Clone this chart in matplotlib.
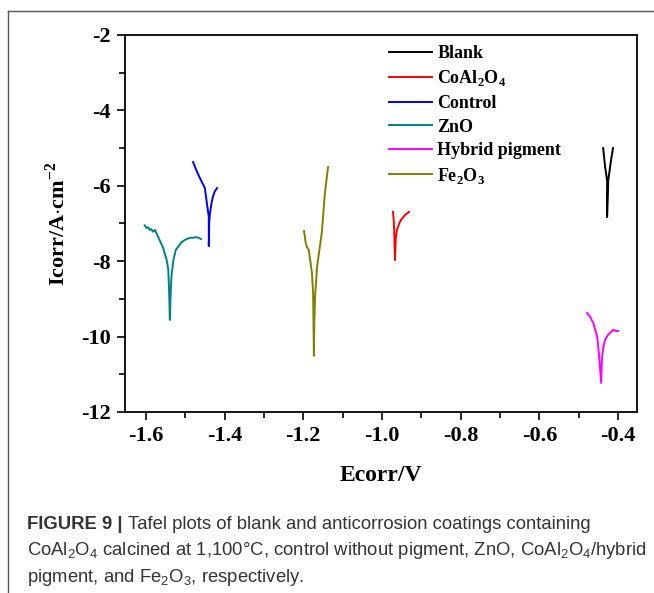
import numpy as np
import matplotlib
matplotlib.use("Agg")
import matplotlib.pyplot as plt
from matplotlib.lines import Line2D

plt.rcParams["font.family"] = "Liberation Serif"
plt.rcParams["font.weight"] = "bold"
plt.rcParams["axes.unicode_minus"] = False
plt.rcParams["mathtext.fontset"] = "custom"
plt.rcParams["mathtext.rm"] = "Liberation Sans:normal"
plt.rcParams["mathtext.bf"] = "Liberation Serif:bold"
plt.rcParams["mathtext.default"] = "rm"

# Tafel curves (E in V, log Icorr)
blank_x = [-0.438, -0.433, -0.428, -0.428, -0.425, -0.418, -0.413]
blank_y = [-5.00, -5.50, -5.85, -6.83, -5.85, -5.32, -5.00]

coal_x = [-0.972, -0.970, -0.969, -0.967, -0.965, -0.962, -0.957, -0.952, -0.942, -0.931]
coal_y = [-6.69, -6.95, -7.17, -7.97, -7.40, -7.17, -7.02, -6.91, -6.78, -6.69]

control_x = [-1.480, -1.472, -1.463, -1.450, -1.445, -1.440, -1.440, -1.439, -1.437, -1.433, -1.430, -1.425, -1.419]
control_y = [-5.37, -5.58, -5.79, -6.06, -6.46, -6.83, -7.60, -6.95, -6.72, -6.45, -6.30, -6.15, -6.06]

zno_x = [-1.603, -1.598, -1.594, -1.590, -1.586, -1.582, -1.577, -1.572, -1.566, -1.557, -1.547,
         -1.543, -1.541, -1.539, -1.538, -1.537, -1.535, -1.530, -1.524, -1.518, -1.510, -1.503,
         -1.496, -1.488, -1.480, -1.472, -1.466, -1.460]
zno_y = [-7.05, -7.12, -7.10, -7.17, -7.15, -7.22, -7.17, -7.28, -7.42, -7.62, -7.97,
         -8.23, -8.76, -9.56, -9.20, -8.85, -8.41, -7.97, -7.70, -7.62, -7.50, -7.45,
         -7.41, -7.38, -7.38, -7.36, -7.38, -7.41]

hybrid_x = [-0.479, -0.471, -0.463, -0.453, -0.448, -0.443, -0.441, -0.437, -0.433, -0.427, -0.420, -0.413, -0.406, -0.400]
hybrid_y = [-9.37, -9.48, -9.64, -10.01, -10.54, -11.23, -10.54, -10.25, -10.09, -9.97, -9.90, -9.82, -9.85, -9.85]

fe_x = [-1.198, -1.194, -1.191, -1.186, -1.178, -1.175, -1.173, -1.172, -1.170, -1.165, -1.159, -1.153, -1.145, -1.137]
fe_y = [-7.20, -7.50, -7.62, -7.70, -8.31, -8.84, -10.51, -9.60, -8.95, -8.15, -7.70, -7.25, -6.19, -5.50]

labels = ["Blank", r"CoAl$_\mathbf{2}$O$_\mathbf{4}$", "Control", "ZnO", "Hybrid pigment",
          r"Fe$_\mathbf{2}$O$_\mathbf{3}$"]
colors = ["#000000", "#ff0000", "#0000ff", "#008080", "#ff00ff", "#808000"]
series = [(blank_x, blank_y), (coal_x, coal_y), (control_x, control_y),
          (zno_x, zno_y), (hybrid_x, hybrid_y), (fe_x, fe_y)]

fig = plt.figure(figsize=(6.54, 5.93), dpi=100)
ax = fig.add_axes([125 / 654, 1 - 412 / 593, 512 / 654, 377 / 593])

for (x, y), lab, c in zip(series, labels, colors):
    ax.plot(x, y, color=c, lw=1.4, label=lab)

ax.set_xlim(-1.653, -0.352)
ax.set_ylim(-12, -2)
ax.set_xticks(np.arange(-1.6, -0.35, 0.2))
ax.set_xticklabels(["-1.6", "-1.4", "-1.2", "-1.0", "-0.8", "-0.6", "-0.4"])
ax.set_xticks(np.arange(-1.5, -0.35, 0.2), minor=True)
ax.set_yticks(np.arange(-12, -1, 2))
ax.set_yticks(np.arange(-11, -2, 2), minor=True)
ax.tick_params(which="major", length=6, width=1.2, labelsize=16, pad=4)
ax.tick_params(which="minor", length=4, width=1.2)
for s in ax.spines.values():
    s.set_linewidth(1.3)

ax.set_xlabel("Ecorr/V", fontsize=17, fontweight="bold", labelpad=14)
ax.set_ylabel(r"Icorr/A$\cdot$cm$^\mathbf{-2}$", fontsize=16, fontweight="bold", labelpad=8)

ax.legend(loc="upper left", bbox_to_anchor=(389 / 654, 1 - 45 / 593), bbox_transform=fig.transFigure,
          frameon=False, fontsize=13, handlelength=2.38, handletextpad=0.3, labelspacing=0.36,
          borderpad=0, borderaxespad=0)

# outer frame of the figure panel
fig.add_artist(Line2D([8 / 654, 8 / 654], [0, 1 - 11 / 593], color="#555555", lw=1))
fig.add_artist(Line2D([8 / 654, 1], [1 - 11 / 593, 1 - 11 / 593], color="#555555", lw=1))

cap = dict(family="Liberation Sans", fontsize=13.3, color="#333333", va="baseline")
t = fig.text(27 / 654, 1 - 529 / 593, "FIGURE 9 | ", fontweight="bold", **cap)
fig.canvas.draw()
bb = t.get_window_extent()
fig.text(bb.x1 / fig.bbox.width, 1 - 529 / 593,
         "Tafel plots of blank and anticorrosion coatings containing", fontweight="normal", **cap)
fig.text(27 / 654, 1 - 555 / 593,
         r"CoAl$_2$O$_4$ calcined at 1,100°C, control without pigment, ZnO, CoAl$_2$O$_4$/hybrid",
         fontweight="normal", **cap)
fig.text(27 / 654, 1 - 582 / 593, r"pigment, and Fe$_2$O$_3$, respectively.", fontweight="normal", **cap)

fig.savefig("out.png", dpi=100)
